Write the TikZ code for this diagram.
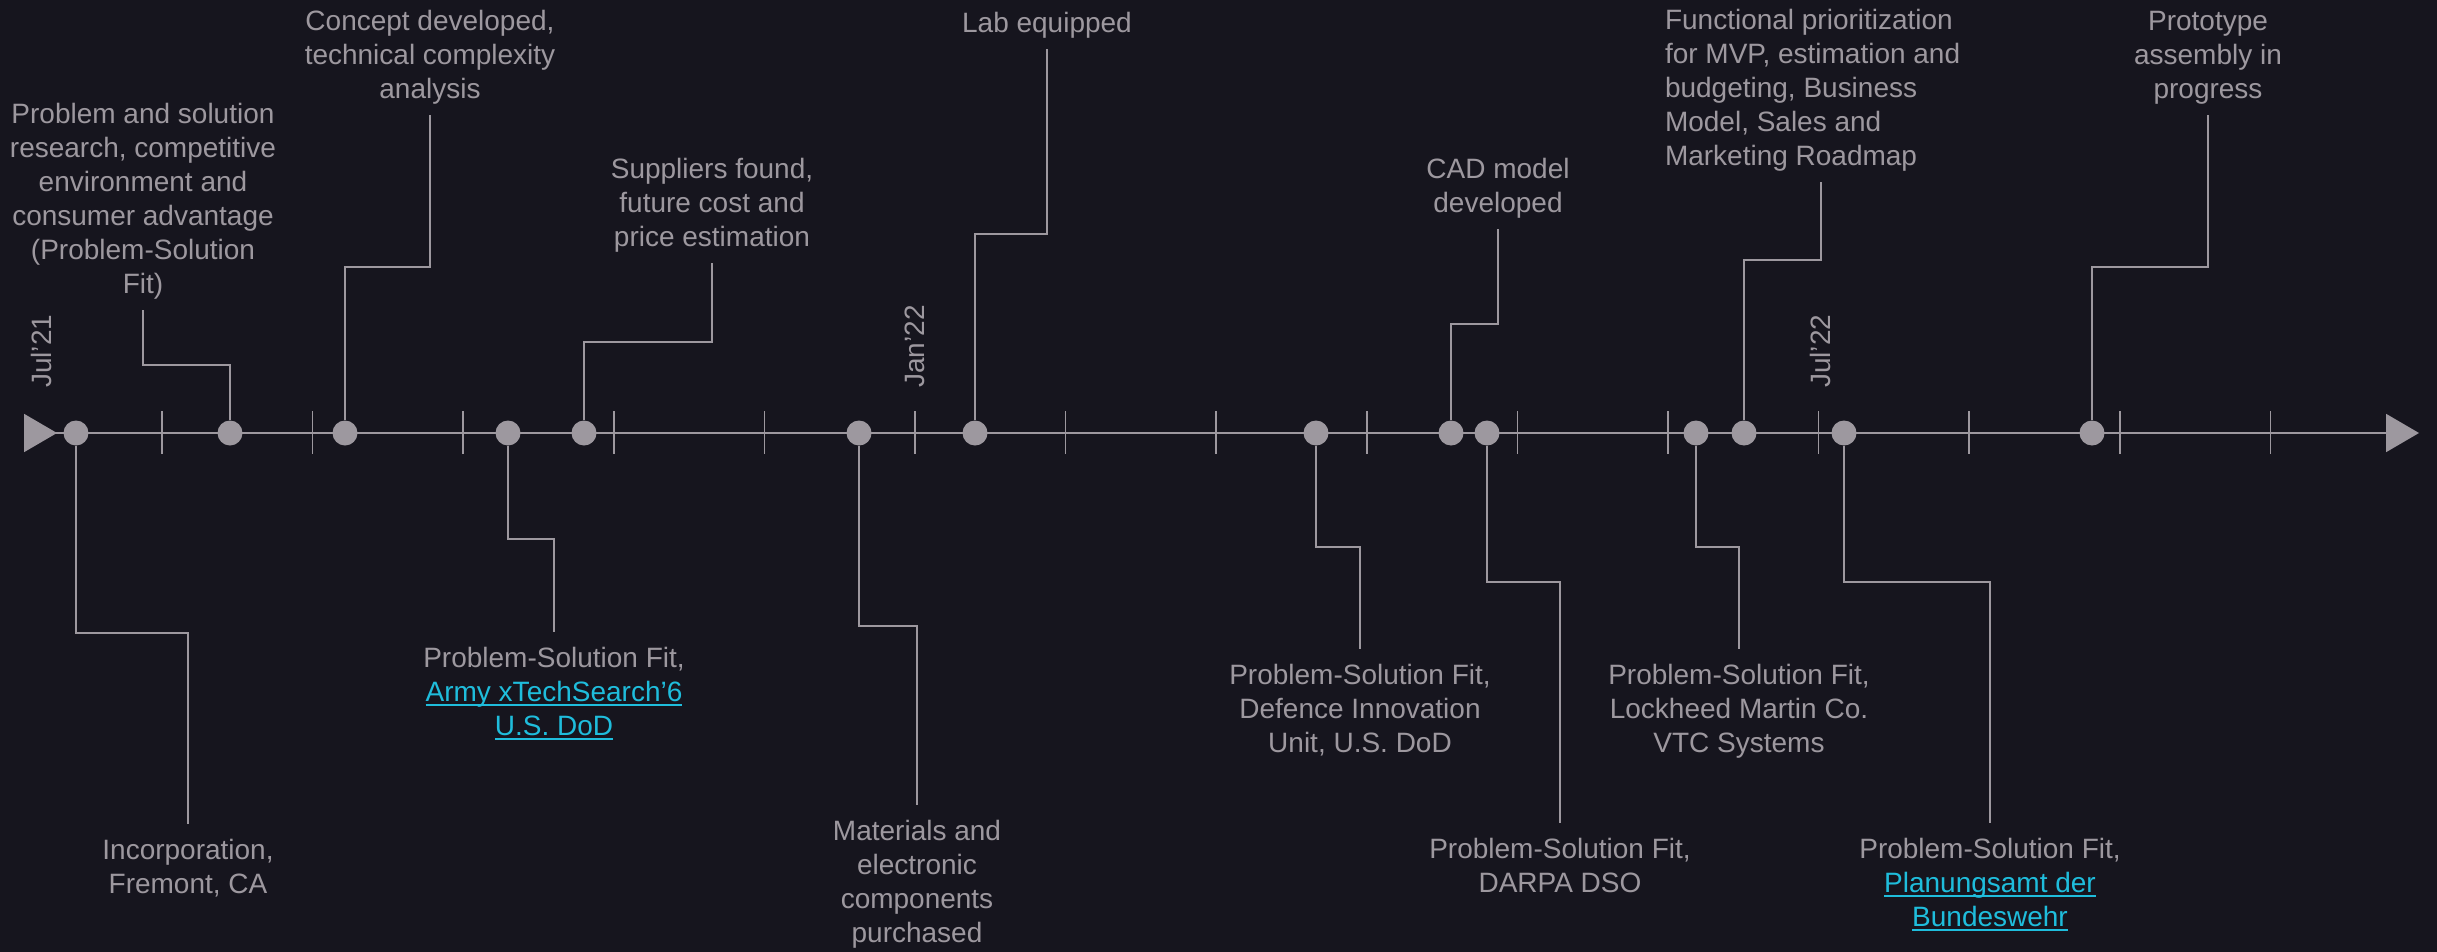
\documentclass[tikz,border=0pt]{standalone}
\usepackage{fontspec}
\setmainfont{Liberation Sans}
\usepackage{tikz}
\usetikzlibrary{arrows.meta}
\definecolor{bgc}{HTML}{16151E}
\definecolor{grc}{HTML}{9D989F}
\definecolor{lnc}{HTML}{1FBDDC}
\newcommand{\lnk}[1]{{\color{lnc}\setbox0\hbox{#1}\rlap{\rule[-5bp]{\wd0}{2.5bp}}\box0}}

\begin{document}
\begin{tikzpicture}[
  dot/.style={circle,fill=grc,minimum size=25bp,inner sep=0},
  conn/.style={draw=grc,line width=1.6bp},
  up/.style={anchor=south,align=center,inner sep=0,outer sep=11bp,text=grc,font=\fontsize{28.1}{34.1}\selectfont},
  dn/.style={anchor=north,align=center,inner sep=0,outer sep=15bp,text=grc,font=\fontsize{28.1}{34.1}\selectfont},
  month/.style={rotate=90,anchor=west,inner sep=0,text=grc,font=\fontsize{28.1}{34.1}\selectfont}]

\fill[bgc] (0,0) rectangle (2437bp,-952bp);
\useasboundingbox (0,0) rectangle (2437bp,-952bp);

\coordinate (A0) at (24bp,-433bp);
\coordinate (A1) at (2419bp,-433bp);
\draw [grc,line width=2bp,{Triangle[reversed,length=33bp,width=38bp]}-{Triangle[length=33bp,width=38bp]}] (A0) to (A1);
\foreach \i in {0,...,14}
  \draw [conn] (162bp+\i*150.6bp,-411bp) -- ++(0,-43bp);

\node (M1) at (41bp,-388bp)[month] {Jul’21};
\node (M2) at (915bp,-388bp)[month] {Jan’22};
\node (M3) at (1820bp,-388bp)[month] {Jul’22};

\node (E1) at (76bp,-433bp)[dot] {};
\node (E2) at (230bp,-433bp)[dot] {};
\node (E3) at (345bp,-433bp)[dot] {};
\node (E4) at (508bp,-433bp)[dot] {};
\node (E5) at (584bp,-433bp)[dot] {};
\node (E6) at (859bp,-433bp)[dot] {};
\node (E7) at (975bp,-433bp)[dot] {};
\node (E8) at (1316bp,-433bp)[dot] {};
\node (E9) at (1451bp,-433bp)[dot] {};
\node (E10) at (1487bp,-433bp)[dot] {};
\node (E11) at (1696bp,-433bp)[dot] {};
\node (E12) at (1744bp,-433bp)[dot] {};
\node (E13) at (1844bp,-433bp)[dot] {};
\node (E14) at (2092bp,-433bp)[dot] {};

\node (L1) at (188bp,-824bp)[dn] {Incorporation,\\Fremont, CA};
\node (L2) at (143bp,-310bp)[up] {Problem and solution\\research, competitive\\environment and\\consumer advantage\\(Problem-Solution\\Fit)};
\node (L3) at (430bp,-115bp)[up] {Concept developed,\\technical complexity\\analysis};
\node (L4) at (554bp,-632bp)[dn] {Problem-Solution Fit,\\\lnk{Army xTechSearch’6}\\\lnk{U.S. DoD}};
\node (L5) at (712bp,-263bp)[up] {Suppliers found,\\future cost and\\price estimation};
\node (L6) at (917bp,-805bp)[dn] {Materials and\\electronic\\components\\purchased};
\node (L7) at (1047bp,-49bp)[up] {Lab equipped};
\node (L8) at (1360bp,-649bp)[dn] {Problem-Solution Fit,\\Defence Innovation\\Unit, U.S. DoD};
\node (L9) at (1498bp,-229bp)[up] {CAD model\\developed};
\node (L10) at (1560bp,-823bp)[dn] {Problem-Solution Fit,\\DARPA DSO};
\node (L11) at (1739bp,-649bp)[dn] {Problem-Solution Fit,\\Lockheed Martin Co.\\VTC Systems};
\node (L12) at (1654bp,-182bp)[up,anchor=south west,align=left] {Functional prioritization\\for MVP, estimation and\\budgeting, Business\\Model, Sales and\\Marketing Roadmap};
\node (L13) at (1990bp,-823bp)[dn] {Problem-Solution Fit,\\\lnk{Planungsamt der}\\\lnk{Bundeswehr}};
\node (L14) at (2208bp,-115bp)[up] {Prototype\\assembly in\\progress};

\draw [conn] (E1) -- (76bp,-633bp) -| (L1.north);
\draw [conn] (E2) -- (230bp,-365bp) -| (L2.south);
\draw [conn] (E3) -- (345bp,-267bp) -| (L3.south);
\draw [conn] (E4) -- (508bp,-539bp) -| (L4.north);
\draw [conn] (E5) -- (584bp,-342bp) -| (L5.south);
\draw [conn] (E6) -- (859bp,-626bp) -| (L6.north);
\draw [conn] (E7) -- (975bp,-234bp) -| (L7.south);
\draw [conn] (E8) -- (1316bp,-547bp) -| (L8.north);
\draw [conn] (E9) -- (1451bp,-324bp) -| (L9.south);
\draw [conn] (E10) -- (1487bp,-582bp) -| (L10.north);
\draw [conn] (E11) -- (1696bp,-547bp) -| (L11.north);
\draw [conn] (E12) -- (1744bp,-260bp) -| ([xshift=167bp]L12.south west);
\draw [conn] (E13) -- (1844bp,-582bp) -| (L13.north);
\draw [conn] (E14) -- (2092bp,-267bp) -| (L14.south);
\end{tikzpicture}
\end{document}
